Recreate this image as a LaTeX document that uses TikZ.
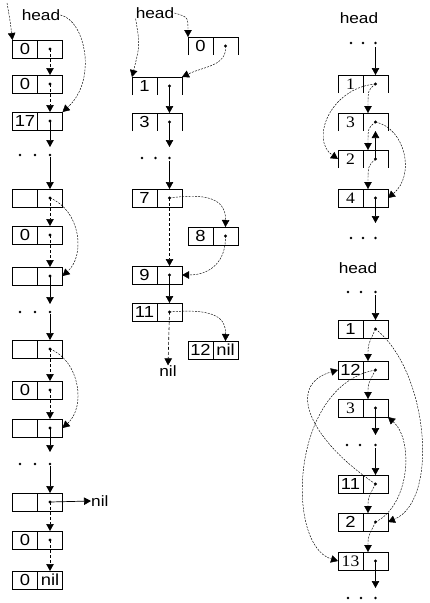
\documentclass[tikz,border=0pt]{standalone}
\usepackage{fontspec}
\setmainfont{Liberation Sans}[FakeStretch=1.15]
\newfontfamily\serifnum{Liberation Serif}[FakeStretch=1.1]
\usetikzlibrary{arrows.meta}
\tikzset{
 cell/.style={minimum width=25pt, minimum height=18pt, inner sep=0pt, outer sep=0pt, anchor=north west, font=\fontsize{16}{16}\selectfont},
 boxline/.style={line width=0.7pt},
 solidarr/.style={-{Triangle[length=7pt,width=7.5pt]}, line width=0.7pt},
 dasharr/.style={-{Triangle[length=7pt,width=7.5pt]}, line width=0.6pt, dash pattern=on 3pt off 2pt},
 curvearr/.style={-{Triangle[length=7pt,width=7.5pt]}, line width=0.45pt, dash pattern=on 2pt off 1.2pt},
 lbl/.style={font=\fontsize{15}{15}\selectfont, inner sep=0pt},
}
\newcommand\fullbox[5]{%
 \node[cell,draw,boxline] (#1l) at (#2,#3) {#4};
 \node[cell,draw,boxline] (#1r) at (#1l.north east) {#5};
 \coordinate (#1d) at (#1r.center);}
\newcommand\openbox[5]{%
 \node[cell] (#1l) at (#2,#3) {#4};
 \node[cell] (#1r) at (#1l.north east) {#5};
 \coordinate (#1d) at (#1r.center);
 \draw[boxline] (#1l.south west) -- (#1l.north west) -- (#1r.north east) -- (#1r.south east) (#1l.north east) -- (#1l.south east);}
\newcommand\bul[1]{\fill (#1) circle (1.6pt);}
\newcommand\threedots[4]{\fill (#1,#4) circle (1.4pt) (#2,#4) circle (1.4pt) (#3,#4) circle (1.4pt);}
\begin{document}
\begin{tikzpicture}[x=1pt,y=-1pt]
\useasboundingbox (0,0) rectangle (430,603);
% ---------------- left column ----------------
\node[lbl] (hl) at (41,15) {head};
\coordinate (hs) at (7,3);
\fullbox{L1}{12.5}{40}{0}{}
\fullbox{L2}{12.5}{75}{0}{}
\fullbox{L3}{12.5}{112}{17}{}
\fullbox{L4}{12.5}{189}{}{}
\fullbox{L5}{12.5}{226}{0}{}
\fullbox{L6}{12.5}{267}{}{}
\fullbox{L7}{12.5}{340}{}{}
\fullbox{L8}{12.5}{381}{0}{}
\fullbox{L9}{12.5}{419}{}{}
\fullbox{L10}{12.5}{493}{}{}
\fullbox{L11}{12.5}{531}{0}{}
\fullbox{L12}{12.5}{571}{0}{nil}
\foreach \n in {L1,L2,L3,L4,L5,L6,L7,L8,L9,L10,L11} {\bul{\n d}}
\draw[curvearr] (hs) .. controls (10,20) .. (L1l.north west);
\draw[curvearr] (hl.east) .. controls (85,20) and (98,80) .. (L3r.north east);
\draw[dasharr] (L1d) -- (L2r.north);
\draw[dasharr] (L2d) -- (L3r.north);
\coordinate (la) at (50,147);
\draw[solidarr] (L3d) -- (la);
\threedots{20}{35}{50}{155}
\coordinate (lb) at (50,157);
\draw[solidarr] (lb) -- (L4r.north);
\draw[dasharr] (L4d) -- (L5r.north);
\draw[dasharr] (L5d) -- (L6r.north);
\draw[curvearr] (L4d) .. controls (80,210) and (86,255) .. (L6r.east);
\coordinate (lc) at (50,304);
\draw[solidarr] (L6d) -- (lc);
\threedots{20}{35}{50}{312}
\coordinate (ld) at (50,314);
\draw[solidarr] (ld) -- (L7r.north);
\draw[dasharr] (L7d) -- (L8r.north);
\draw[dasharr] (L8d) -- (L9r.north);
\draw[curvearr] (L7d) .. controls (80,361) and (86,407) .. (L9r.east);
\coordinate (le) at (50,452);
\draw[solidarr] (L9d) -- (le);
\threedots{20}{35}{50}{464}
\coordinate (lf) at (50,466);
\draw[solidarr] (lf) -- (L10r.north);
\draw[dasharr] (L10d) -- (L11r.north);
\draw[dasharr] (L11d) -- (L12r.north);
\node[lbl, anchor=west] (nil1) at (91,501) {nil};
\draw[solidarr] (L10d) -- (nil1.west);
% ---------------- middle column ----------------
\node[lbl] (hm) at (155,13) {head};
\openbox{M0}{188}{37}{0}{}
\openbox{M1}{132}{77}{1}{}
\openbox{M3}{132}{113}{3}{}
\fullbox{M7}{132}{189}{7}{}
\fullbox{M8}{188}{227}{8}{}
\fullbox{M9}{132}{266}{9}{}
\fullbox{M11}{132}{303}{11}{}
\fullbox{M12}{188}{341}{12}{nil}
\foreach \n in {M0,M1,M3,M7,M8,M9,M11} {\bul{\n d}}
\draw[curvearr] (hm.south west) .. controls (140,45) .. (M1l.north west);
\draw[curvearr] (hm.east) .. controls (188,17) .. (M0l.north west);
\draw[curvearr] (M0d) .. controls (227,66) and (205,66) .. (M1r.north east);
\draw[solidarr] (M1d) -- (M3r.north);
\coordinate (ma) at (169.5,147);
\draw[solidarr] (M3d) -- (ma);
\threedots{142}{155.5}{169.5}{158}
\coordinate (mb) at (169.5,161);
\draw[solidarr] (mb) -- (M7r.north);
\draw[dasharr] (M7d) -- (M9r.north);
\draw[curvearr] (M7d) .. controls (205,193) and (226,198) .. (M8r.north);
\draw[curvearr] (M8d) .. controls (226,262) and (210,275) .. (M9r.east);
\draw[solidarr] (M9d) -- (M11r.north);
\draw[curvearr] (M11d) .. controls (215,308) and (226,318) .. (M12r.north);
\node[lbl] (nil2) at (168,371) {nil};
\draw[dasharr] (M11d) -- (nil2.north);
% ---------------- right top ----------------
\node[lbl] (hr1) at (359,18) {head};
\openbox{R1}{338}{75}{\serifnum 1}{}
\openbox{R3}{338}{113}{\serifnum 3}{}
\openbox{R2}{338}{150}{\serifnum 2}{}
\fullbox{R4}{338}{189}{\serifnum 4}{}
\foreach \n in {R1,R3,R2,R4} {\bul{\n d}}
\threedots{351}{363}{375.5}{43}
\coordinate (ra) at (375.5,47);
\draw[solidarr] (ra) -- (R1r.north);
\draw[curvearr] (R1d) .. controls (368,90) .. ([xshift=5pt]R3r.north west);
\draw[curvearr] (R3d) .. controls (368,128) .. ([xshift=5pt]R2r.north west);
\draw[curvearr] (R2d) .. controls (368,166) .. ([xshift=5pt]R4r.north west);
\draw[curvearr] (R1d) .. controls (330,88) and (310,140) .. (R2l.west);
\draw[curvearr] (R3d) .. controls (405,128) and (416,175) .. (R4r.east);
\draw[solidarr] (R2d) -- (R3r.south);
\coordinate (rb) at (375.5,223);
\draw[solidarr] (R4d) -- (rb);
\threedots{351}{363}{375.5}{238}
% ---------------- right bottom ----------------
\node[lbl] (hr2) at (358,268) {head};
\fullbox{B1}{338}{320}{1}{}
\fullbox{B12}{338}{361}{12}{}
\fullbox{B3}{338}{399}{\serifnum 3}{}
\fullbox{B11}{338}{475}{11}{}
\fullbox{B2}{338}{513}{2}{}
\fullbox{B13}{338}{552}{\serifnum 13}{}
\foreach \n in {B1,B12,B3,B11,B2,B13} {\bul{\n d}}
\threedots{348}{361}{375.5}{292}
\coordinate (ba) at (375.5,295);
\draw[solidarr] (ba) -- (B1r.north);
\draw[curvearr] (B1d) .. controls (368,345) .. ([xshift=5pt]B12r.north west);
\draw[curvearr] (B12d) .. controls (368,384) .. ([xshift=5pt]B3r.north west);
\draw[curvearr] (B11d) .. controls (368,498) .. ([xshift=5pt]B2r.north west);
\draw[curvearr] (B2d) .. controls (368,537) .. ([xshift=5pt]B13r.north west);
\coordinate (bb) at (375.5,435);
\draw[solidarr] (B3d) -- (bb);
\threedots{347}{360}{375.5}{445}
\coordinate (bc) at (375.5,448);
\draw[solidarr] (bc) -- (B11r.north);
\coordinate (bd) at (375.5,588);
\draw[solidarr] (B13d) -- (bd);
\threedots{348}{361}{375.5}{598}
\draw[curvearr] (B1d) .. controls (428,370) and (440,500) .. (B2r.east);
\draw[curvearr] (B2d) .. controls (410,505) and (414,440) .. (B3r.south east);
\draw[curvearr] (B11d) .. controls (310,440) and (285,385) .. (B12l.west);
\draw[curvearr] (B12d) .. controls (290,385) and (285,545) .. (B13l.west);
\end{tikzpicture}
\end{document}
